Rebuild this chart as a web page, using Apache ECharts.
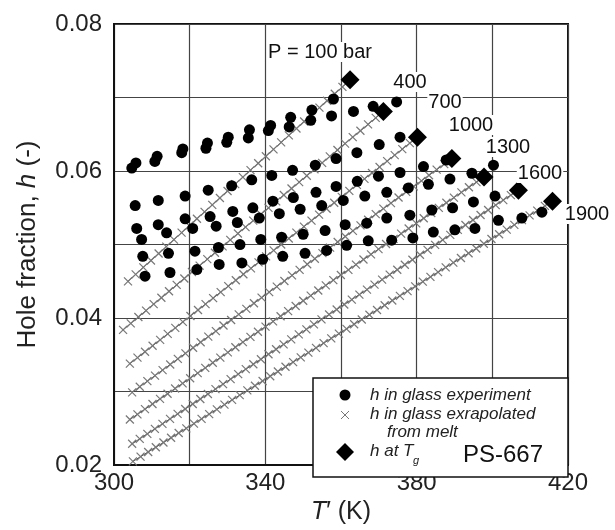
<!DOCTYPE html>
<html><head><meta charset="utf-8">
<script src="https://cdn.jsdelivr.net/npm/echarts@6/dist/echarts.min.js"></script>
<style>html,body{margin:0;padding:0;background:#fff}#c{width:615px;height:530px}</style>
</head><body><div id="c"></div>
<script>
// ---------- data ----------
const pressures = [100, 400, 700, 1000, 1300, 1600, 1900];
// h at Tg (diamonds)
const tgT = [362.4, 371.2, 380.2, 389.3, 397.8, 406.9, 415.9];
const tgH = [0.0724, 0.0681, 0.0646, 0.0617, 0.0592, 0.0574, 0.0559];
// start of melt-extrapolated lines (crosses), they end at the Tg point
const meltStartT = [303.7, 302.4, 304.2, 304.8, 304.2, 304.8, 305.0];
const meltStartH = [0.0450, 0.0384, 0.0338, 0.0299, 0.0262, 0.0229, 0.0205];
// h in glass experiment (circles)
const glass100 = [[305.8,0.0611],[311.4,0.0620],[318.2,0.0630],[324.7,0.0638],[330.2,0.0646],[335.8,0.0656],[341.4,0.0662],[346.7,0.0673],[352.3,0.0683],[358.0,0.0698]];
const glass400 = [[304.7,0.0604],[310.8,0.0613],[317.9,0.0625],[324.3,0.0631],[329.8,0.0639],[335.5,0.0645],[340.8,0.0655],[346.3,0.0660],[352.0,0.0669],[357.5,0.0675],[363.3,0.0681],[368.5,0.0688],[374.7,0.0694]];
const glass700 = [[305.6,0.0553],[311.7,0.0560],[318.8,0.0566],[324.9,0.0574],[331.1,0.0580],[336.4,0.0588],[341.7,0.0594],[347.2,0.0601],[353.2,0.0608],[358.7,0.0617],[364.2,0.0625],[370.1,0.0636],[375.6,0.0646]];
const glass1000 = [[306.0,0.0522],[311.7,0.0527],[318.8,0.0535],[325.4,0.0538],[331.4,0.0545],[336.7,0.0550],[342.0,0.0559],[347.4,0.0564],[353.4,0.0571],[358.7,0.0579],[364.3,0.0586],[369.9,0.0593],[375.6,0.0598],[381.8,0.0606],[387.8,0.0615]];
const glass1300 = [[307.3,0.0507],[313.9,0.0516],[320.8,0.0522],[327.0,0.0525],[332.6,0.0530],[338.4,0.0536],[343.7,0.0542],[349.2,0.0548],[354.9,0.0553],[360.6,0.0560],[366.3,0.0566],[372.1,0.0571],[377.8,0.0577],[383.1,0.0582],[388.8,0.0589],[394.6,0.0597],[400.3,0.0608]];
const glass1600 = [[307.6,0.0484],[314.4,0.0488],[321.4,0.0491],[327.6,0.0496],[333.3,0.0500],[338.8,0.0507],[344.3,0.0510],[350.0,0.0514],[355.8,0.0519],[361.1,0.0527],[366.8,0.0529],[372.1,0.0536],[378.2,0.0540],[384.0,0.0547],[389.5,0.0550],[395.0,0.0558],[400.7,0.0566]];
const glass1900 = [[308.2,0.0457],[314.8,0.0462],[321.9,0.0466],[327.8,0.0473],[333.8,0.0475],[339.3,0.0480],[344.6,0.0484],[350.5,0.0488],[356.2,0.0492],[361.5,0.0499],[367.2,0.0505],[373.4,0.0506],[379.0,0.0509],[384.4,0.0517],[390.1,0.0520],[395.4,0.0522],[401.6,0.0533],[407.8,0.0536],[413.1,0.0544]];
const xTicks = [300, 340, 380, 420];
const yTicks = [0.02, 0.04, 0.06, 0.08];

// ---------- chart ----------
const FONT = '"Liberation Sans", Arial, sans-serif';
const chart = echarts.init(document.getElementById('c'));
const glassSets = [glass100, glass400, glass700, glass1000, glass1300, glass1600, glass1900];
const meltData = pressures.map((p, i) => [meltStartT[i], meltStartH[i], tgT[i], tgH[i]]);
const tgData = pressures.map((p, i) => [tgT[i], tgH[i]]);

function renderMelt(params, api) {
  const t0 = api.value(0), h0 = api.value(1), t1 = api.value(2), h1 = api.value(3);
  const a = api.coord([t0, h0]), b = api.coord([t1, h1]);
  const kids = [{type: 'line', shape: {x1: a[0], y1: a[1], x2: b[0], y2: b[1]}, style: {stroke: '#444', lineWidth: 1}}];
  const n = Math.max(1, Math.round((t1 - t0) / 2));
  const s = 4;
  for (let i = 0; i <= n; i++) {
    const x = a[0] + (b[0] - a[0]) * i / n, y = a[1] + (b[1] - a[1]) * i / n;
    kids.push({type: 'line', shape: {x1: x - s, y1: y - s, x2: x + s, y2: y + s}, style: {stroke: '#777', lineWidth: 1.2}});
    kids.push({type: 'line', shape: {x1: x - s, y1: y + s, x2: x + s, y2: y - s}, style: {stroke: '#777', lineWidth: 1.2}});
  }
  return {type: 'group', children: kids};
}

const series = [];
series.push({type: 'custom', name: 'melt', data: meltData, renderItem: renderMelt, z: 2,
  encode: {x: [0, 2], y: [1, 3]}, silent: true});
glassSets.forEach((g, i) => series.push({type: 'scatter', name: 'glass ' + pressures[i], data: g,
  symbol: 'circle', symbolSize: 11, itemStyle: {color: '#000', opacity: 1}, z: 3, silent: true}));
series.push({type: 'scatter', name: 'Tg', data: tgData, symbol: 'diamond', symbolSize: 19,
  itemStyle: {color: '#000', opacity: 1}, z: 4, silent: true});

// pressure label layout (pixel centers)
const labelPos = [[320, 52], [410, 82], [445, 102], [471, 125], [508, 147], [540, 173], [587, 214]];
const graphics = pressures.map((p, i) => ({
  type: 'text', x: labelPos[i][0], y: labelPos[i][1], z: 50,
  style: {text: i === 0 ? 'P = ' + p + ' bar' : String(p), fontFamily: FONT, fontSize: 20,
    fill: '#111', align: 'center', verticalAlign: 'middle', backgroundColor: '#fff', padding: [0, 1]}
}));

// legend box
const LX = 313, LY = 378;
const legendFont = 'italic 17px "Liberation Sans", Arial, sans-serif';
graphics.push(
  {type: 'rect', z: 60, shape: {x: LX, y: LY, width: 568 - LX, height: 477 - LY}, style: {fill: '#fff', stroke: '#111', lineWidth: 1.5}},
  {type: 'circle', z: 61, shape: {cx: 345, cy: 395, r: 5.5}, style: {fill: '#000'}},
  {type: 'line', z: 61, shape: {x1: 341, y1: 411, x2: 349, y2: 419}, style: {stroke: '#777', lineWidth: 1}},
  {type: 'line', z: 61, shape: {x1: 341, y1: 419, x2: 349, y2: 411}, style: {stroke: '#777', lineWidth: 1}},
  {type: 'polygon', z: 61, shape: {points: [[345, 443], [354, 452], [345, 461], [336, 452]]}, style: {fill: '#000'}},
  {type: 'text', z: 61, x: 370, y: 395, style: {text: 'h in glass experiment', font: legendFont, fill: '#222', verticalAlign: 'middle'}},
  {type: 'text', z: 61, x: 370, y: 414, style: {text: 'h in glass exrapolated', font: legendFont, fill: '#222', verticalAlign: 'middle'}},
  {type: 'text', z: 61, x: 387, y: 432, style: {text: 'from melt', font: legendFont, fill: '#222', verticalAlign: 'middle'}},
  {type: 'text', z: 61, x: 370, y: 451, style: {text: 'h at T', font: legendFont, fill: '#222', verticalAlign: 'middle'}},
  {type: 'text', z: 61, x: 413, y: 461, style: {text: 'g', font: 'italic 11px "Liberation Sans", Arial, sans-serif', fill: '#222', verticalAlign: 'middle'}},
  {type: 'text', z: 61, x: 463, y: 455, style: {text: 'PS-667', fontFamily: FONT, fontSize: 24, fill: '#111', verticalAlign: 'middle'}}
);

chart.setOption({
  animation: false,
  backgroundColor: '#fff',
  grid: {left: 114, top: 24, right: 47, bottom: 53, show: true, borderColor: '#111', borderWidth: 2, backgroundColor: 'transparent'},
  xAxis: {
    type: 'value', min: 300, max: 420, interval: 20,
    axisLine: {show: true, lineStyle: {color: '#111', width: 2}},
    axisTick: {show: false},
    splitLine: {show: true, lineStyle: {color: '#444', width: 1.2}},
    axisLabel: {fontFamily: FONT, fontSize: 24, color: '#222', margin: 6,
      formatter: v => xTicks.indexOf(Math.round(v)) >= 0 ? String(Math.round(v)) : ''},
    name: '{i|T}{n|′ (K)}', nameLocation: 'middle', nameGap: 28,
    nameTextStyle: {rich: {i: {fontFamily: FONT, fontSize: 25, fontStyle: 'italic', color: '#222'},
      n: {fontFamily: FONT, fontSize: 25, color: '#222'}}}
  },
  yAxis: {
    type: 'value', min: 0.02, max: 0.08, interval: 0.01,
    axisLine: {show: true, lineStyle: {color: '#111', width: 2}},
    axisTick: {show: false},
    splitLine: {show: true, lineStyle: {color: '#444', width: 1.2}},
    axisLabel: {fontFamily: FONT, fontSize: 24, color: '#222', margin: 12,
      formatter: v => yTicks.some(t => Math.abs(t - v) < 1e-6) ? v.toFixed(2) : ''},
    name: '{n|Hole fraction, }{i|h}{n| (-)}', nameLocation: 'middle', nameGap: 73,
    nameTextStyle: {rich: {i: {fontFamily: FONT, fontSize: 26, fontStyle: 'italic', color: '#222'},
      n: {fontFamily: FONT, fontSize: 26, color: '#222'}}}
  },
  series: series,
  graphic: graphics
});
</script>
</body></html>
